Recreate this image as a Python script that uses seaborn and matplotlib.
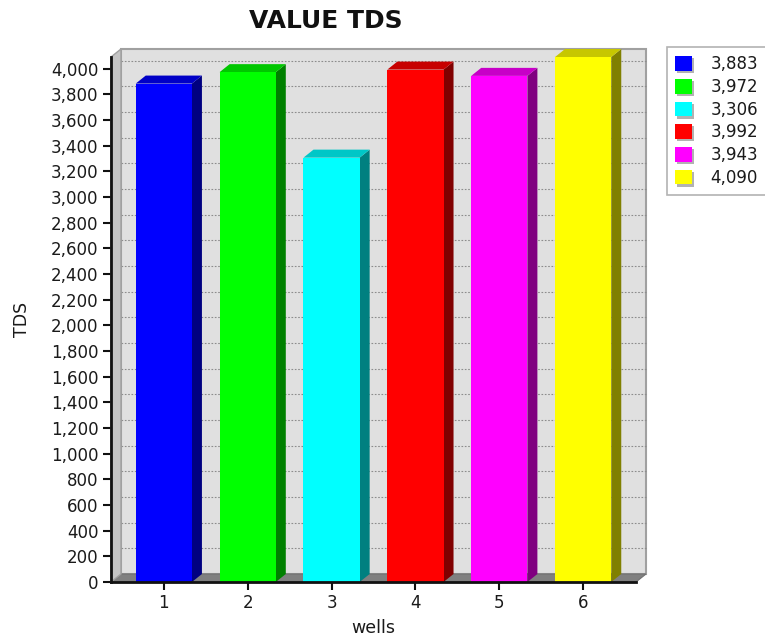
import numpy as np
import pandas as pd
import matplotlib
matplotlib.use("Agg")
import matplotlib.pyplot as plt
import matplotlib.patheffects as pe
from matplotlib.patches import Polygon, Rectangle, Patch
from matplotlib.ticker import FuncFormatter
import seaborn as sns

# ---- data ----
wells = ["1", "2", "3", "4", "5", "6"]
tds = [3883, 3972, 3306, 3992, 3943, 4090]
colors = ["#0000FF", "#00FF00", "#00FFFF", "#FF0000", "#FF00FF", "#FFFF00"]
y_ticks = list(range(0, 4001, 200))

sns.set_style("white")
plt.rcParams["font.family"] = ["DejaVu Sans"]
TXT = "#1a1a1a"

fig = plt.figure(figsize=(7.65, 6.39), dpi=100)
W, H = 765, 639
ax = fig.add_axes([111 / W, 57 / H, 525 / W, 525 / H])

df = pd.DataFrame({"wells": wells, "TDS": tds})
sns.barplot(data=df, x="wells", y="TDS", hue="wells", palette=colors,
            width=0.67, saturation=1, legend=False, ax=ax,
            linewidth=0, zorder=5)
bars = list(ax.patches)

xl, xr = -0.63, 5.63
ytop = max(tds)
ax.set_xlim(xl, xr)
ax.set_ylim(0, ytop)
ax.patch.set_visible(False)

# depth offset in data units (10 px right, 8 px up)
p0 = ax.transData.transform((0, 0))
p1 = ax.transData.transform((1, 1))
DX = 10 / (p1[0] - p0[0])
DY = 8 / (p1[1] - p0[1])

# back wall
ax.add_patch(Rectangle((xl + DX, DY), xr - xl, ytop, facecolor="#E0E0E0",
                       edgecolor="#A0A0A0", lw=1.5, zorder=0, clip_on=False))
# grid on back wall
for v in y_ticks[1:]:
    ax.plot([xl + DX, xr + DX], [v + DY, v + DY], color="#8c8c8c", lw=0.8,
            dashes=(1.5, 1.5), zorder=1, clip_on=False)
# floor
ax.add_patch(Polygon([(xl, 0), (xr, 0), (xr + DX, DY), (xl + DX, DY)],
                     closed=True, facecolor="#808080", edgecolor="#707070",
                     lw=0.8, zorder=2, clip_on=False))
# left wall
ax.add_patch(Polygon([(xl, 0), (xl + DX, DY), (xl + DX, ytop + DY), (xl, ytop)],
                     closed=True, facecolor="#C4C4C4", edgecolor="#A0A0A0",
                     lw=1, zorder=2, clip_on=False))

# 3D faces of bars
for b in bars:
    x0, w, h = b.get_x(), b.get_width(), b.get_height()
    c = np.array(b.get_facecolor()[:3])
    side = Polygon([(x0 + w, 0), (x0 + w + DX, DY), (x0 + w + DX, h + DY), (x0 + w, h)],
                   closed=True, facecolor=c * 0.5, edgecolor="none", zorder=4, clip_on=False)
    top = Polygon([(x0, h), (x0 + w, h), (x0 + w + DX, h + DY), (x0 + DX, h + DY)],
                  closed=True, facecolor=c * 0.78, edgecolor="none", zorder=4, clip_on=False)
    ax.add_patch(side)
    ax.add_patch(top)
    b.set_clip_on(False)

# spines / ticks
for s in ["top", "right"]:
    ax.spines[s].set_visible(False)
for s in ["left", "bottom"]:
    ax.spines[s].set_color("#111111")
    ax.spines[s].set_linewidth(2)
    ax.spines[s].set_zorder(6)

ax.set_yticks(y_ticks)
ax.yaxis.set_major_formatter(FuncFormatter(lambda v, p: f"{v:,.0f}"))
ax.tick_params(axis="both", direction="out", length=6, width=1.5,
               color="#111111", labelsize=12, labelcolor=TXT, pad=3,
               left=True, bottom=True)

ax.set_xlabel("wells", fontsize=12.5, color=TXT, labelpad=5)
ax.set_ylabel("TDS", fontsize=12.5, color=TXT, labelpad=14)

fig.text(326 / W, 1 - 21 / H, "VALUE TDS", ha="center", va="center",
         fontsize=18, fontweight="bold", color="#111111")

handles = [Patch(facecolor=c, edgecolor="none") for c in colors]
labels = [f"{v:,}" for v in tds]
leg = fig.legend(handles, labels, loc="upper left",
                 bbox_to_anchor=(667 / W, 1 - 47 / H),
                 frameon=True, fancybox=False, edgecolor="#A0A0A0",
                 fontsize=12, handlelength=1.0, handleheight=1.0,
                 labelspacing=0.28, handletextpad=1.1, borderpad=0.5,
                 borderaxespad=0)
leg.get_frame().set_linewidth(1.2)
for t in leg.get_texts():
    t.set_color(TXT)
for hpatch in leg.legend_handles:
    hpatch.set_path_effects([pe.withSimplePatchShadow(offset=(1.5, -1.5),
                                                     shadow_rgbFace="#808080",
                                                     alpha=0.6), pe.Normal()])

fig.savefig("out.png", dpi=100)
